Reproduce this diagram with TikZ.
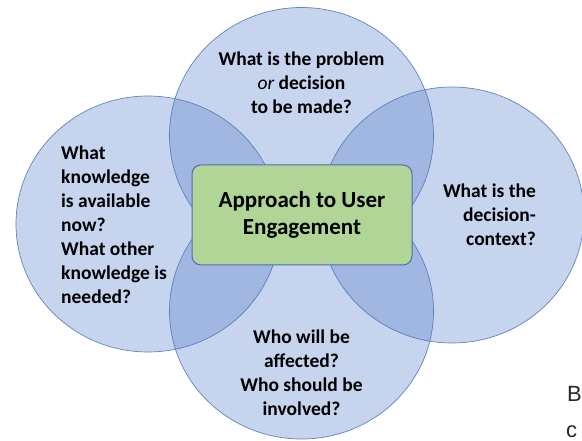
\documentclass[tikz,border=0pt]{standalone}
\usepackage{fontspec}
\setmainfont{Carlito}
\newfontfamily\arialfont{Liberation Sans}
\usetikzlibrary{shapes.geometric}
\definecolor{ringblue}{HTML}{4472C4}
\definecolor{ringline}{HTML}{5479BA}
\definecolor{boxgreen}{HTML}{B1D597}
\definecolor{boxline}{HTML}{4A6FB3}

\begin{document}
\begin{tikzpicture}[x=1pt,y=-1pt,
    every node/.style={font=\bfseries\fontsize{19.5}{24}\selectfont},
    ring/.style={ellipse,minimum width=264pt,minimum height=256pt,inner sep=0pt,
      fill=ringblue,fill opacity=0.3,draw=ringline,draw opacity=0.9,line width=0.7pt},
    question/.style={text=black,inner sep=0pt}]
      \useasboundingbox (0,0) rectangle (582,441);
      \draw
        (301.5,135.5) node[ring] (problem) {}
        (148,224) node[ring] (knowledge) {}
        (452,215) node[ring] (context) {}
        (301.5,311) node[ring] (affected) {};
      \draw
        (302,215) node[rounded corners=9pt,fill=boxgreen,draw=boxline,line width=1pt,
          minimum width=220pt,minimum height=100pt,align=center,
          font=\bfseries\fontsize{23}{27}\selectfont] (approach) {Approach to User\\Engagement};
      \draw
        (301.5,83) node[question,align=center] (problemtext)
          {What is the problem\\{\mdseries\itshape or} decision\\to be made?}
        (61,225) node[question,align=left,anchor=west] (knowledgetext)
          {What\\knowledge\\is available\\now?\\What other\\knowledge is\\needed?}
        (536,215) node[question,align=right,anchor=east] (contexttext)
          {What is the\\decision-\\context?}
        (301.5,373) node[question,align=center] (affectedtext)
          {Who will be\\affected?\\Who should be\\involved?};
      \draw
        (567,402) node[anchor=base west,inner sep=0pt,font=\arialfont\fontsize{22}{22}\selectfont,text=black!85] (pageB) {B}
        (566,437) node[anchor=base west,inner sep=0pt,font=\arialfont\fontsize{22}{22}\selectfont,text=black!85] (pagec) {c};
    \end{tikzpicture}
\end{document}
